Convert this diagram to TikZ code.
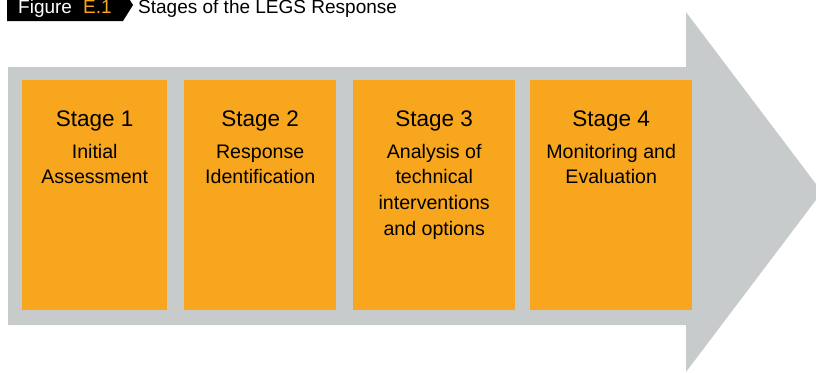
\documentclass[tikz,border=0pt]{standalone}
\usepackage{fontspec}
\setmainfont{Liberation Sans}
\definecolor{legsgray}{RGB}{200,203,204}
\definecolor{legsorange}{RGB}{247,166,30}
\begin{document}
\begin{tikzpicture}[x=1bp,y=-1bp,
  stagebox/.style={fill=legsorange,draw=none,rectangle,inner sep=0pt,minimum height=230bp,anchor=north west},
  stagetitle/.style={anchor=base,inner sep=0pt,font=\fontsize{22.5bp}{26bp}\selectfont},
  stagetext/.style={anchor=base,inner sep=0pt,align=center,font=\fontsize{19.6bp}{25.8bp}\selectfont},
  titletext/.style={anchor=base west,inner sep=0pt,font=\fontsize{19bp}{22bp}\selectfont}]
\useasboundingbox (0,0) rectangle (816,372);
\clip (0,0) rectangle (816,372);
% big arrow
\fill[legsgray] (8,67) -- (686,67) -- (686,12) -- (822,192) -- (686,372) -- (686,325) -- (8,325) -- cycle;
% title tag
\fill[black] (7,-11) -- (123,-11) -- (133,5) -- (123,21) -- (7,21) -- cycle;
\node[titletext,text=white] (fig) at (18,13) {Figure};
\node[titletext,text=legsorange] (num) at (83,13) {E.1};
\node[titletext] (title) at (138,13) {Stages of the LEGS Response};
% stage boxes
\node[stagebox,minimum width=145bp] (s1) at (22,80) {};
\node[stagebox,minimum width=152bp] (s2) at (184,80) {};
\node[stagebox,minimum width=162bp] (s3) at (353,80) {};
\node[stagebox,minimum width=162bp] (s4) at (530,80) {};
% texts (base anchor = baseline of the last line)
\node[stagetitle] (t1) at (s1.north |- 0,126) {Stage 1};
\node[stagetitle] (t2) at (s2.north |- 0,126) {Stage 2};
\node[stagetitle] (t3) at (s3.north |- 0,126) {Stage 3};
\node[stagetitle] (t4) at (s4.north |- 0,126) {Stage 4};
\node[stagetext] (d1) at (s1.north |- 0,183.8) {Initial\\Assessment};
\node[stagetext] (d2) at (s2.north |- 0,183.8) {Response\\Identification};
\node[stagetext] (d3) at (s3.north |- 0,235.4) {Analysis of\\technical\\interventions\\and options};
\node[stagetext] (d4) at (s4.north |- 0,183.8) {Monitoring and\\Evaluation};
\end{tikzpicture}
\end{document}
